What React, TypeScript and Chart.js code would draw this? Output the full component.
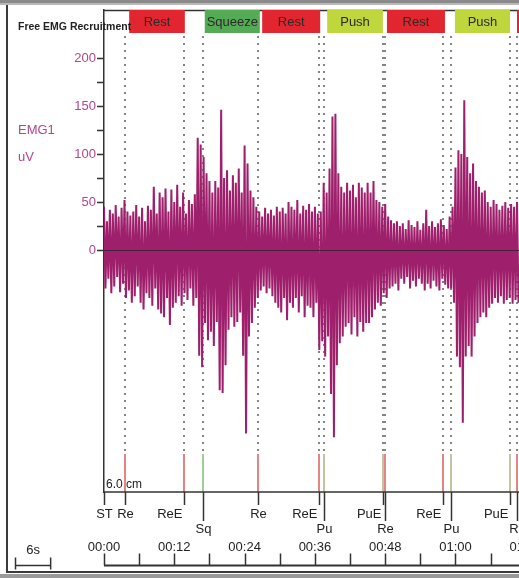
import React, { useEffect, useRef } from "react";
import { Chart, registerables } from "chart.js";

Chart.register(...registerables);

// EMG trace: peak (high) and trough (low) per half-second (uV)
const SAMPLE_STEP = 0.5;
const emgHigh = [
  45, 30, 42, 38, 47, 35, 44, 52, 40, 36,
  40, 47, 35, 44, 30, 46, 42, 66, 38, 60,
  55, 64, 40, 63, 50, 68, 45, 60, 38, 52,
  48, 58, 117, 110, 97, 80, 72, 60, 72, 65,
  146, 75, 83, 62, 78, 70, 85, 60, 109, 90,
  62, 55, 45, 40, 35, 44, 38, 42, 36, 45,
  40, 44, 38, 50, 45, 42, 52, 38, 46, 42,
  48, 40, 45, 38, 40, 70, 60, 85, 139, 142,
  80, 66, 60, 70, 62, 68, 55, 70, 65, 60,
  70, 60, 72, 52, 50, 45, 48, 35, 31, 28,
  30, 25, 28, 22, 31, 26, 24, 30, 21, 28,
  42, 25, 30, 24, 28, 32, 26, 22, 35, 45,
  86, 104, 100, 156, 97, 80, 90, 72, 66, 60,
  62, 50, 45, 52, 48, 42, 46, 50, 44, 48,
  45, 50,
];
const emgLow = [
  -40, -30, -45, -38, -28, -44, -35, -50, -42, -55,
  -48, -38, -55, -62, -45, -50, -58, -40, -62, -66,
  -70, -50, -78, -60, -55, -48, -58, -45, -52, -40,
  -58, -50, -110, -122, -76, -94, -85, -100, -75, -146,
  -149, -120, -83, -70, -80, -75, -65, -110, -191, -90,
  -76, -60, -50, -42, -38, -45, -40, -48, -55, -60,
  -65, -50, -73, -55, -60, -50, -65, -48, -70, -58,
  -60, -70, -55, -104, -95, -111, -90, -150, -195, -120,
  -97, -90, -80, -76, -88, -70, -90, -75, -85, -76,
  -76, -70, -62, -55, -58, -45, -50, -40, -38, -35,
  -42, -30, -35, -28, -40, -32, -38, -30, -35, -42,
  -35, -40, -32, -38, -42, -30, -36, -40, -40, -55,
  -111, -122, -180, -111, -100, -111, -90, -76, -70, -65,
  -70, -60, -56, -50, -55, -48, -56, -52, -50, -56,
  -52, -55,
];

const yTickValues = [0, 25, 50, 75, 100, 125, 150, 175, 200];
const yLabelValues = [0, 50, 100, 150, 200];

const eventTimes = [0, 3.6, 13.65, 16.9, 26.3, 36.7, 37.55, 47.6, 48.0, 57.9, 59.2, 69.3, 70.5];
const eventLabels = ["ST", "Re", "ReE", "Sq", "Re", "ReE", "Pu", "PuE", "Re", "ReE", "Pu", "PuE", "Re"];
const eventRows = [1, 1, 1, 2, 1, 1, 2, 1, 2, 1, 2, 1, 2];

const phaseStarts = [4.3, 17.2, 27.0, 38.1, 48.3, 59.9, 70.5];
const phaseEnds = [13.8, 26.6, 36.9, 47.6, 58.2, 69.3, 76];
const phaseLabels = ["Rest", "Squeeze", "Rest", "Push", "Rest", "Push", "Rest"];

const timeTicks = [0, 6, 12, 18, 24, 30, 36, 42, 48, 54, 60, 66, 72];
const timeLabelValues = [0, 12, 24, 36, 48, 60, 72];
const timeLabels = ["00:00", "00:12", "00:24", "00:36", "00:48", "01:00", "01:12"];

const X_MAX = 70.84;
const FONT = "Arial, 'Liberation Sans', Helvetica, sans-serif";
const MAGENTA_TEXT = "#b4458e";
const TRACE = "#9e1f6c";

const phaseColors: Record<string, string> = {
  Rest: "#e1262f",
  Squeeze: "#55aa55",
  Push: "#bfd63c",
};

function eventColor(label: string): string {
  if (label.startsWith("Re")) return "#e06464";
  if (label.startsWith("Sq")) return "#86c27a";
  return "#b4b48a";
}

const overlay = {
  id: "emgOverlay",
  beforeDatasetsDraw(chart: any) {
    const { ctx, chartArea: ca, scales } = chart;
    const xs = scales.x;
    ctx.save();
    ctx.strokeStyle = "#333";
    ctx.lineWidth = 1.5;
    ctx.beginPath();
    ctx.moveTo(ca.left, ca.top + 0.5);
    ctx.lineTo(ca.right, ca.top + 0.5);
    ctx.stroke();
    phaseLabels.forEach((lab, i) => {
      const x0 = xs.getPixelForValue(phaseStarts[i]);
      const x1 = xs.getPixelForValue(phaseEnds[i]);
      ctx.fillStyle = phaseColors[lab];
      ctx.fillRect(x0, ca.top, x1 - x0, 23);
      ctx.fillStyle = "#2b2b2b";
      ctx.font = `13px ${FONT}`;
      ctx.textAlign = "center";
      ctx.textBaseline = "middle";
      ctx.fillText(lab, (x0 + x1) / 2, ca.top + 12);
    });
    ctx.strokeStyle = "#858585";
    ctx.lineWidth = 2;
    ctx.setLineDash([2, 5]);
    eventTimes.forEach((t, i) => {
      if (eventLabels[i] === "ST") return;
      const x = Math.round(xs.getPixelForValue(t));
      ctx.beginPath();
      ctx.moveTo(x, ca.top + 26);
      ctx.lineTo(x, ca.bottom - 40);
      ctx.stroke();
    });
    ctx.setLineDash([]);
    ctx.restore();
  },
  afterDatasetsDraw(chart: any) {
    const { ctx, chartArea: ca, scales } = chart;
    const xs = scales.x;
    const ys = scales.y;
    ctx.save();
    const y0 = Math.round(ys.getPixelForValue(0)) + 0.5;
    ctx.strokeStyle = "rgba(55,30,50,0.85)";
    ctx.lineWidth = 1;
    ctx.beginPath();
    ctx.moveTo(ca.left, y0);
    ctx.lineTo(ca.right, y0);
    ctx.stroke();

    ctx.fillStyle = "#222";
    ctx.font = `bold 10.5px ${FONT}`;
    ctx.textAlign = "left";
    ctx.textBaseline = "middle";
    ctx.fillText("Free EMG Recruitment", 18, 27);

    ctx.fillStyle = MAGENTA_TEXT;
    ctx.font = `13px ${FONT}`;
    ctx.fillText("EMG1", 18, 130);
    ctx.fillText("uV", 18, 157);

    ctx.lineWidth = 1.6;
    eventTimes.forEach((t, i) => {
      if (eventLabels[i] === "ST") return;
      const x = Math.round(xs.getPixelForValue(t));
      ctx.strokeStyle = eventColor(eventLabels[i]);
      ctx.beginPath();
      ctx.moveTo(x, ca.bottom - 38);
      ctx.lineTo(x, ca.bottom);
      ctx.stroke();
    });

    ctx.strokeStyle = "#333";
    ctx.lineWidth = 1.5;
    ctx.beginPath();
    ctx.moveTo(ca.left, ca.bottom);
    ctx.lineTo(ca.right, ca.bottom);
    ctx.stroke();
    ctx.fillStyle = "#222";
    ctx.font = `12px ${FONT}`;
    ctx.textAlign = "left";
    ctx.textBaseline = "alphabetic";
    ctx.fillText("6.0 cm", ca.left + 2, ca.bottom - 4);

    ctx.font = `13px ${FONT}`;
    ctx.textBaseline = "middle";
    eventTimes.forEach((t, i) => {
      const x = Math.round(xs.getPixelForValue(t)) + 0.5;
      const row = eventRows[i];
      const lab = eventLabels[i];
      ctx.strokeStyle = "#333";
      ctx.lineWidth = 1.5;
      ctx.beginPath();
      ctx.moveTo(x, ca.bottom);
      ctx.lineTo(x, ca.bottom + (row === 1 ? 13 : 29));
      ctx.stroke();
      const ly = ca.bottom + (row === 1 ? 22 : 37);
      ctx.fillStyle = "#222";
      if (lab.endsWith("E")) {
        ctx.textAlign = "right";
        ctx.fillText(lab, x - 2, ly);
      } else {
        ctx.textAlign = "center";
        ctx.fillText(lab, x, ly);
      }
    });

    const axisY = 565.5;
    ctx.strokeStyle = "#333";
    ctx.lineWidth = 2;
    ctx.beginPath();
    ctx.moveTo(ca.left, axisY);
    ctx.lineTo(ca.right, axisY);
    ctx.stroke();
    ctx.lineWidth = 1.5;
    timeTicks.forEach((t) => {
      const x = Math.round(xs.getPixelForValue(t)) + 0.5;
      ctx.beginPath();
      ctx.moveTo(x, axisY - 12);
      ctx.lineTo(x, axisY);
      ctx.stroke();
    });
    ctx.fillStyle = "#222";
    ctx.textAlign = "center";
    ctx.textBaseline = "middle";
    ctx.font = `13px ${FONT}`;
    timeLabelValues.forEach((t, i) => {
      ctx.fillText(timeLabels[i], xs.getPixelForValue(t), 547);
    });

    const barLen = xs.getPixelForValue(6) - xs.getPixelForValue(0);
    const bx0 = 15.5;
    const bx1 = bx0 + barLen;
    ctx.lineWidth = 1.5;
    ctx.beginPath();
    ctx.moveTo(bx0, axisY);
    ctx.lineTo(bx1, axisY);
    ctx.moveTo(bx0, axisY - 8);
    ctx.lineTo(bx0, axisY + 4);
    ctx.moveTo(bx1, axisY - 8);
    ctx.lineTo(bx1, axisY + 4);
    ctx.stroke();
    ctx.fillText("6s", (bx0 + bx1) / 2, 550);

    ctx.fillStyle = "#8a8a8a";
    ctx.fillRect(0, 0, chart.width, 3);
    ctx.fillStyle = "#b8b8b8";
    ctx.fillRect(0, 3, chart.width, 2);
    ctx.strokeStyle = "#3a3a3a";
    ctx.lineWidth = 2;
    ctx.beginPath();
    ctx.moveTo(7, 5);
    ctx.lineTo(7, 572);
    ctx.lineTo(chart.width, 572);
    ctx.stroke();
    ctx.fillStyle = "#9a9a9a";
    ctx.fillRect(0, 574, chart.width, 4);
    ctx.restore();
  },
};

export default function App() {
  const ref = useRef<HTMLCanvasElement | null>(null);

  useEffect(() => {
    if (!ref.current) return;
    const points: { x: number; y: number }[] = [];
    emgHigh.forEach((h, i) => {
      points.push({ x: i * SAMPLE_STEP, y: h });
      points.push({ x: i * SAMPLE_STEP + SAMPLE_STEP / 2, y: emgLow[i] });
    });

    const chart = new Chart(ref.current, {
      type: "line",
      data: {
        datasets: [
          {
            label: "EMG1",
            data: points,
            borderColor: TRACE,
            borderWidth: 2,
            borderJoinStyle: "miter",
            pointRadius: 0,
            tension: 0,
            fill: false,
          },
        ],
      },
      options: {
        responsive: false,
        animation: false,
        parsing: false,
        normalized: true,
        layout: { padding: { top: 10, bottom: 86, left: 0, right: 0 } },
        plugins: {
          legend: { display: false },
          tooltip: { enabled: false },
        },
        scales: {
          x: {
            type: "linear",
            min: 0,
            max: X_MAX,
            display: false,
          },
          y: {
            type: "linear",
            min: -252,
            max: 250,
            position: "left",
            afterFit(scale: any) {
              scale.width = 104;
            },
            afterBuildTicks(scale: any) {
              scale.ticks = yTickValues.map((v) => ({ value: v }));
            },
            ticks: {
              autoSkip: false,
              padding: 1,
              color: MAGENTA_TEXT,
              font: { family: FONT, size: 13 },
              callback: (v: any) => (yLabelValues.includes(Number(v)) ? String(v) : ""),
            },
            grid: {
              drawOnChartArea: false,
              drawTicks: true,
              tickLength: 7,
              tickWidth: 1.5,
              tickColor: "#333",
            },
            border: { display: true, color: "#333", width: 1.5 },
          },
        },
      },
      plugins: [overlay],
    });
    return () => chart.destroy();
  }, []);

  return (
    <div style={{ position: "fixed", left: 0, top: 0, width: 519, height: 578, background: "#fff" }}>
      <canvas ref={ref} width={519} height={578} style={{ display: "block" }} />
    </div>
  );
}
